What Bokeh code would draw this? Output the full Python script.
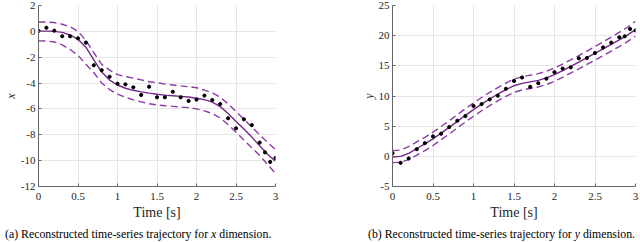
from bokeh.plotting import figure
from bokeh.models import Range1d, FixedTicker, Div
from bokeh.layouts import row, column
from bokeh.embed import file_html
from bokeh.resources import INLINE

# ---------------- data ----------------
t_obs = [0.0, 0.1, 0.2, 0.3, 0.4, 0.5, 0.6, 0.7, 0.8, 0.9, 1.0, 1.1, 1.2, 1.3,
         1.4, 1.5, 1.6, 1.7, 1.8, 1.9, 2.0, 2.1, 2.2, 2.3, 2.4, 2.5, 2.6, 2.7,
         2.8, 2.867, 2.933, 3.0]
x_obs = [0.03, 0.28, 0.05, -0.38, -0.38, -0.54, -0.87, -2.62, -3.0, -3.51,
         -4.05, -4.1, -4.33, -4.92, -4.28, -5.1, -5.1, -4.67, -5.1, -5.38,
         -5.28, -4.97, -5.31, -5.62, -6.72, -7.5, -6.8, -7.25, -8.6, -9.36,
         -10.1, -9.79]
y_obs = [0.53, -1.07, -0.35, 1.19, 2.18, 3.3, 3.75, 4.85, 5.9, 6.68, 8.35,
         8.66, 9.44, 10.05, 11.2, 12.5, 13.07, 11.52, 12.12, 12.87, 13.95,
         14.55, 14.75, 16.25, 16.3, 17.13, 18.05, 18.85, 19.72, 19.9, 21.12,
         20.87]

t_fit = [0.0, 0.1, 0.2, 0.3, 0.4, 0.5, 0.6, 0.7, 0.8, 0.9, 1.0, 1.1, 1.2, 1.3,
         1.4, 1.5, 1.6, 1.7, 1.8, 1.9, 2.0, 2.1, 2.2, 2.3, 2.4, 2.5, 2.6, 2.7,
         2.8, 2.9, 3.0]
x_mean = [0.02, 0.02, 0.0, -0.08, -0.28, -0.62, -1.22, -2.2, -3.15, -3.77,
          -4.15, -4.4, -4.56, -4.68, -4.78, -4.86, -4.93, -4.98, -5.03, -5.08,
          -5.17, -5.28, -5.47, -5.82, -6.35, -6.97, -7.56, -8.18, -8.85, -9.5,
          -10.05]
x_upper = [0.72, 0.72, 0.68, 0.55, 0.35, 0.0, -0.7, -1.65, -2.55, -3.0, -3.35,
           -3.5, -3.62, -3.75, -3.9, -3.97, -4.08, -4.15, -4.22, -4.28, -4.36,
           -4.55, -4.75, -5.1, -5.6, -6.2, -6.8, -7.4, -8.0, -8.6, -9.15]
x_lower = [-0.74, -0.75, -0.82, -1.05, -1.4, -1.85, -2.55, -3.2, -4.0, -4.5,
           -4.85, -5.1, -5.3, -5.45, -5.6, -5.69, -5.75, -5.8, -5.85, -5.9,
           -6.0, -6.15, -6.35, -6.7, -7.2, -7.8, -8.4, -9.0, -9.6, -10.3, -11.0]
y_mean = [-0.1, 0.0, 0.5, 1.3, 2.05, 2.9, 3.85, 4.8, 5.8, 6.8, 7.75, 8.65, 9.5,
          10.3, 11.05, 11.7, 12.1, 12.35, 12.6, 13.0, 13.55, 14.2, 14.9, 15.6,
          16.35, 17.05, 17.8, 18.55, 19.3, 20.1, 21.0]
y_upper = [0.95, 1.05, 1.6, 2.4, 3.15, 4.0, 4.95, 5.9, 6.9, 7.9, 8.85, 9.75,
           10.6, 11.4, 12.15, 12.8, 13.2, 13.45, 13.7, 14.1, 14.65, 15.3, 16.0,
           16.7, 17.45, 18.2, 18.95, 19.75, 20.55, 21.4, 22.4]
y_lower = [-1.05, -1.0, -0.55, 0.2, 0.95, 1.8, 2.75, 3.7, 4.7, 5.7, 6.65, 7.55,
           8.4, 9.2, 9.95, 10.6, 11.0, 11.25, 11.5, 11.9, 12.45, 13.1, 13.8,
           14.5, 15.25, 15.95, 16.7, 17.45, 18.2, 19.0, 19.9]

x_ticks = [0, 0.5, 1, 1.5, 2, 2.5, 3]
x_tick_labels = ["0", "0.5", "1", "1.5", "2", "2.5", "3"]
left_yticks = [-12, -10, -8, -6, -4, -2, 0, 2]
left_ylabels = ["-12", "-10", "-8", "-6", "-4", "-2", "0", "2"]
right_yticks = [-5, 0, 5, 10, 15, 20, 25]
right_ylabels = ["-5", "0", "5", "10", "15", "20", "25"]

SOLID = "#75288A"
DASH = "#8E3AA6"
SERIF = "Liberation Serif"


def make_fig(obs, mean, upper, lower, yr, yticks, ylabels, ylab, w, bl, br):
    p = figure(output_backend="svg", toolbar_location=None,
               width=w, frame_height=181,
               x_range=Range1d(0, 3), y_range=Range1d(*yr),
               min_border_left=bl, min_border_right=br,
               min_border_top=5, min_border_bottom=2)
    p.outline_line_color = None
    p.background_fill_color = "white"
    for ax in (p.xaxis[0], p.yaxis[0]):
        ax.axis_line_color = "#666666"
        ax.axis_line_width = 1
        ax.major_tick_in = 3
        ax.major_tick_out = 0
        ax.major_tick_line_color = "#666666"
        ax.minor_tick_line_color = None
        ax.major_label_text_font = SERIF
        ax.major_label_text_font_size = "11px"
        ax.major_label_text_color = "#262626"
        ax.axis_label_text_font = SERIF
        ax.axis_label_text_color = "#262626"
    p.xaxis.ticker = FixedTicker(ticks=x_ticks)
    p.xaxis.major_label_overrides = dict(zip(x_ticks, x_tick_labels))
    p.yaxis.ticker = FixedTicker(ticks=yticks)
    p.yaxis.major_label_overrides = dict(zip(yticks, ylabels))
    p.xaxis.major_label_standoff = 6
    p.yaxis.major_label_standoff = 3
    p.xaxis.axis_label = "Time [s]"
    p.xaxis.axis_label_text_font_size = "14px"
    p.xaxis.axis_label_text_font_style = "normal"
    p.xaxis.axis_label_standoff = 2
    p.yaxis.axis_label = ylab
    p.yaxis.axis_label_text_font_size = "12px"
    p.yaxis.axis_label_text_font_style = "italic"
    p.yaxis.axis_label_standoff = 0
    p.grid.grid_line_color = "#e6e6e6"
    p.grid.grid_line_width = 1
    p.line(t_fit, upper, line_color=DASH, line_width=1.4, line_dash="7 4")
    p.line(t_fit, lower, line_color=DASH, line_width=1.4, line_dash="7 4")
    p.line(t_fit, mean, line_color=SOLID, line_width=1.4)
    p.scatter(t_obs, obs, size=3.2, color="black")
    return p


p1 = make_fig(x_obs, x_mean, x_upper, x_lower, (-12, 2), left_yticks,
              left_ylabels, "x", 358, 32, 83)
p2 = make_fig(y_obs, y_mean, y_upper, y_lower, (-5, 25), right_yticks,
              right_ylabels, "y", 282, 30, 5)

cap_style = {"font-family": "'Liberation Serif', serif", "font-size": "11.8px",
             "color": "black", "white-space": "nowrap", "line-height": "14px"}
d1 = Div(text="(a) Reconstructed time-series trajectory for <i>x</i> dimension.",
         width=358, height=19, margin=(0, 0, 0, 0),
         styles=dict(cap_style, **{"padding-top": "5px", "padding-left": "5px"}))
d2 = Div(text="(b) Reconstructed time-series trajectory for <i>y</i> dimension.",
         width=282, height=19, margin=(0, 0, 0, 0),
         styles=dict(cap_style, **{"padding-top": "5px", "padding-left": "10px"}))

layout = row(column(p1, d1, spacing=0), column(p2, d2, spacing=0), spacing=0)

open("out.html", "w").write(file_html(layout, INLINE))
